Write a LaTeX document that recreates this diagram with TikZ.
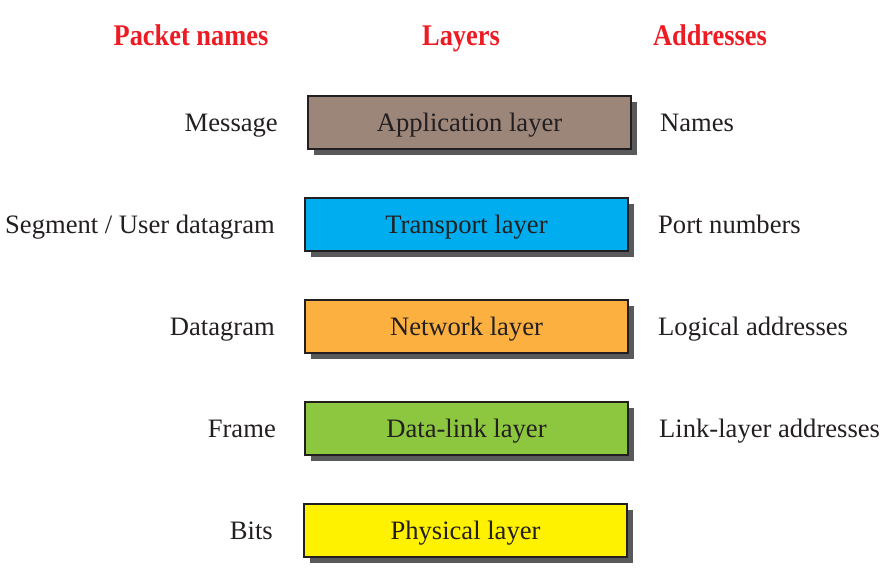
\documentclass[tikz,border=0pt]{standalone}
\usepackage{fontspec}
\setmainfont{Liberation Serif}
\newfontfamily\headfont[FakeStretch=0.88]{Liberation Serif}
\begin{document}
\definecolor{headred}{HTML}{ED1C24}
\definecolor{inkgray}{HTML}{231F20}
\definecolor{shadowgray}{HTML}{58595B}
\definecolor{appcol}{HTML}{9C8579}
\definecolor{trancol}{HTML}{00AEEF}
\definecolor{netcol}{HTML}{FBB040}
\definecolor{linkcol}{HTML}{8DC63F}
\definecolor{physcol}{HTML}{FFF200}
\begin{tikzpicture}[x=1pt,y=-1pt,
  header/.style={text=headred,font=\headfont\fontsize{30}{30}\selectfont\bfseries,anchor=base,inner sep=0pt},
  label/.style={text=inkgray,font=\fontsize{26.6}{26.6}\selectfont,anchor=base,inner sep=0pt},
  layerbox/.style={draw=inkgray,line width=1.2pt,minimum width=323pt,minimum height=53pt,
    text=inkgray,font=\fontsize{26.6}{26.6}\selectfont,inner sep=0pt,
    text height=20pt,text depth=3pt},
  boxshadow/.style={fill=shadowgray,draw=none,minimum width=323pt,minimum height=53pt,inner sep=0pt}]
\useasboundingbox (0,0) rectangle (894,574);

% column headings
\node[header] (hpacket) at (191,45) {Packet names};
\node[header] (hlayers) at (461,45) {Layers};
\node[header] (haddr) at (710,45) {Addresses};

% layer boxes with drop shadows
\foreach \nm/\cx/\cy/\col/\txt in {app/469.5/122.5/appcol/Application layer,
                                   tran/466.5/224.5/trancol/Transport layer,
                                   net/466.5/326.5/netcol/Network layer,
                                   link/466.5/428.5/linkcol/Data-link layer,
                                   phys/465.5/530.5/physcol/Physical layer}{
  \node[boxshadow] (\nm-sh) at (\cx+6,\cy+6) {};
  \node[layerbox,fill=\col] (\nm) at (\cx,\cy) {\txt};
}

% packet names
\node[label,anchor=base east] (pmsg) at (278,131) {Message};
\node[label,anchor=base east] (pseg) at (275,233) {Segment / User datagram};
\node[label,anchor=base east] (pdgm) at (275,335) {Datagram};
\node[label,anchor=base east] (pfrm) at (276,437) {Frame};
\node[label,anchor=base east] (pbit) at (273,539) {Bits};

% addresses
\node[label,anchor=base west] (anam) at (660,131) {Names};
\node[label,anchor=base west] (aport) at (658,233) {Port numbers};
\node[label,anchor=base west] (alog) at (658,335) {Logical addresses};
\node[label,anchor=base west] (alnk) at (659,437) {Link-layer addresses};
\end{tikzpicture}
\end{document}
